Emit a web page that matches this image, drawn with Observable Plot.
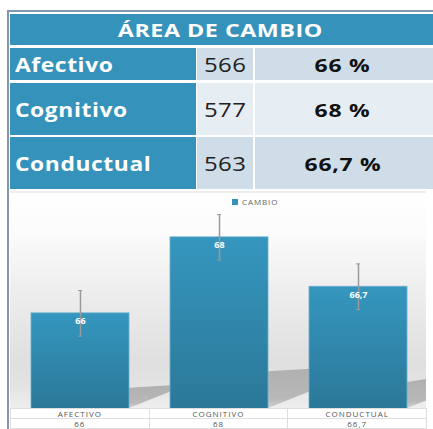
<!DOCTYPE html>
<html>
<head>
<meta charset="utf-8">
<script src="https://cdn.jsdelivr.net/npm/d3@7"></script>
<script src="https://cdn.jsdelivr.net/npm/@observablehq/plot@0.6"></script>
<style>
  body { margin: 0; width: 433px; height: 429px; overflow: hidden; background: #fff; font-family: "Open Sans", sans-serif; position: relative; }
  .abs { position: absolute; box-sizing: border-box; }
  .cell { display: flex; align-items: center; }
  .sx { display: inline-block; white-space: nowrap; }
</style>
</head>
<body>
<script>
// ---- data ----
const title = "ÁREA DE CAMBIO";
const areas = ["Afectivo", "Cognitivo", "Conductual"];
const counts = [566, 577, 563];
const percents = ["66 %", "68 %", "66,7 %"];
const categories = ["AFECTIVO", "COGNITIVO", "CONDUCTUAL"];
const values = [66, 68, 66.7];
const errors = [0.6, 0.6, 0.6];
const seriesName = "CAMBIO";

const fmt = v => String(v).replace(".", ",");
const data = categories.map((c, i) => ({cat: c, value: values[i], err: errors[i]}));

// ---- helpers ----
function box(left, top, w, h, bg) {
  const d = document.createElement("div");
  d.className = "abs";
  Object.assign(d.style, {left: left + "px", top: top + "px", width: w + "px", height: h + "px", background: bg});
  document.body.appendChild(d);
  return d;
}
function stretched(parent, text, sx, origin) {
  const s = document.createElement("span");
  s.className = "sx";
  s.textContent = text;
  s.style.transform = `scaleX(${sx})`;
  s.style.transformOrigin = origin;
  parent.appendChild(s);
}

// ---- frame lines ----
box(7, 10, 426, 2, "#8197b0");
box(7, 10, 2, 419, "#8197b0");

// ---- top table ----
const blue = "#3592ba";
const h = box(10, 14, 423, 31, blue);
h.classList.add("cell");
Object.assign(h.style, {justifyContent: "center", color: "#fff", fontWeight: 700, fontSize: "18.5px", letterSpacing: "0.4px", paddingRight: "2px"});
stretched(h, title, 1.26, "center");

const rows = [[48, 32], [83, 52], [137, 52]];
const light = ["#cfdde8", "#e6eef3", "#cfdde8"];
areas.forEach((a, i) => {
  const [top, hh] = rows[i];
  const c1 = box(10, top, 186, hh, blue);
  c1.classList.add("cell");
  Object.assign(c1.style, {paddingLeft: "5px", color: "#fff", fontWeight: 700, fontSize: "19.5px", letterSpacing: "0.5px"});
  stretched(c1, a, 1.17, "left center");
  const c2 = box(197, top, 56, hh, light[i]);
  c2.classList.add("cell");
  Object.assign(c2.style, {justifyContent: "center", color: "#222", fontSize: "20.5px", letterSpacing: "0.4px"});
  stretched(c2, counts[i], 1.17, "center");
  const c3 = box(255, top, 178, hh, light[i]);
  c3.classList.add("cell");
  Object.assign(c3.style, {justifyContent: "center", color: "#111", fontWeight: 700, fontSize: "18.5px", letterSpacing: "0.6px", paddingRight: "2px"});
  stretched(c3, percents[i], 1.24, "center");
});

// ---- chart panel background ----
const panel = box(10, 191, 416, 238, "linear-gradient(to bottom, #ffffff 0px, #fbfbfb 40px, #ebebeb 110px, #dfdfdf 170px, #e4e4e4 195px, #efefef 217px)");
panel.style.borderTop = "2px solid #eeeeee";

// ---- chart ----
const y0 = 63.47;
const chart = Plot.plot({
  width: 417,
  height: 217,
  marginTop: 0, marginBottom: 0, marginLeft: 0, marginRight: 0,
  style: {background: "transparent", overflow: "visible"},
  x: {domain: categories, paddingInner: 0.295, paddingOuter: 0.1475, axis: null},
  y: {domain: [y0, 69.18], axis: null},
  marks: [
    Plot.barY(data, {x: "cat", y1: y0, y2: "value", fill: "url(#barGrad)", stroke: "#6db0cf", strokeWidth: 0.8}),
    Plot.ruleX(data, {x: "cat", y1: d => d.value - d.err, y2: d => d.value + d.err, stroke: "#9a9a9a", strokeWidth: 1.5}),
    Plot.tickY(data, {x: "cat", y: d => d.value - d.err, stroke: "#9a9a9a", strokeWidth: 1, insetLeft: 47, insetRight: 47}),
    Plot.tickY(data, {x: "cat", y: d => d.value + d.err, stroke: "#9a9a9a", strokeWidth: 1, insetLeft: 47, insetRight: 47}),
    Plot.text(data, {x: "cat", y: "value", text: d => fmt(d.value), dy: 8, fill: "#fff", fontWeight: "bold", fontSize: 9, fontFamily: "Open Sans"})
  ]
});
const svg = d3.select(chart);
const defs = svg.insert("defs", ":first-child");
const g = defs.append("linearGradient").attr("id", "barGrad").attr("x1", 0).attr("y1", 0).attr("x2", 0).attr("y2", 1);
g.append("stop").attr("offset", "0%").attr("stop-color", "#3596be");
g.append("stop").attr("offset", "100%").attr("stop-color", "#2b7898");
const sg = defs.append("linearGradient").attr("id", "shGrad").attr("x1", 0).attr("y1", 0).attr("x2", 0).attr("y2", 1);
sg.append("stop").attr("offset", "0%").attr("stop-color", "#b0b0b0");
sg.append("stop").attr("offset", "75%").attr("stop-color", "#b8b8b8");
sg.append("stop").attr("offset", "100%").attr("stop-color", "#cfcfcf");

// floor shadows derived from the bar scales, drawn behind the bars
const xs = chart.scale("x"), ys = chart.scale("y");
const xScale = d3.scaleBand().domain(xs.domain).range(xs.range).paddingInner(xs.paddingInner).paddingOuter(xs.paddingOuter).align(xs.align).round(xs.round);
const yScale = d3.scaleLinear().domain(ys.domain).range(ys.range);
const base = yScale(y0);
const barsG = chart.querySelector("g[aria-label='bar']");
const shadows = d3.create("svg:g");
data.forEach(d => {
  const xr = xScale(d.cat) + xScale.bandwidth();
  const H = base - yScale(d.value);
  const s = 0.22 * H;
  const L = Math.min(50, 416 - xr);
  shadows.append("polygon")
    .attr("points", [[xr, base - 1], [xr, base - s], [xr + L, base - s - 3], [xr + L, base - 1 - 0.4 * L]].map(p => p.join(",")).join(" "))
    .attr("fill", "url(#shGrad)");
});
chart.insertBefore(shadows.node(), barsG);

chart.style.position = "absolute";
chart.style.left = "10px";
chart.style.top = "192px";
document.body.appendChild(chart);

// ---- legend ----
const legend = Plot.legend({color: {type: "categorical", domain: [seriesName], range: ["#3592ba"]}, swatchSize: 6, style: {fontSize: "8px", color: "#666", fontFamily: "Open Sans", letterSpacing: "0.9px"}});
legend.style.position = "absolute";
legend.style.left = "232px";
legend.style.top = "185px";
legend.style.margin = "0";
document.body.appendChild(legend);

// ---- bottom data table ----
const tbl = document.createElement("table");
tbl.className = "abs";
Object.assign(tbl.style, {left: "10px", top: "408px", width: "417px", borderCollapse: "collapse", tableLayout: "fixed", background: "#fff", fontSize: "8px", color: "#555", letterSpacing: "1px"});
[categories, values.map(fmt)].forEach(r => {
  const tr = document.createElement("tr");
  r.forEach(t => {
    const td = document.createElement("td");
    Object.assign(td.style, {border: "1px solid #dedede", height: "9px", padding: "0", textAlign: "center", lineHeight: "9px"});
    td.textContent = t;
    tr.appendChild(td);
  });
  tbl.appendChild(tr);
});
document.body.appendChild(tbl);
</script>
</body>
</html>
